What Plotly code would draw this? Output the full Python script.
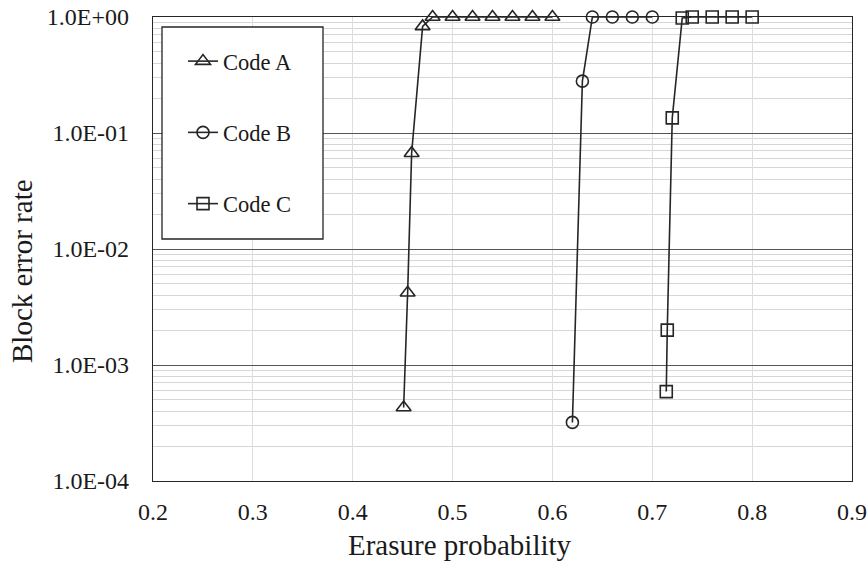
import plotly.graph_objects as go

# ---- data ----
a_x = [0.451, 0.455, 0.459, 0.47, 0.48, 0.50, 0.52, 0.54, 0.56, 0.58, 0.60]
a_y = [4.3e-4, 4.2e-3, 6.7e-2, 0.83, 1, 1, 1, 1, 1, 1, 1]
b_x = [0.62, 0.63, 0.64, 0.66, 0.68, 0.70]
b_y = [3.2e-4, 0.28, 1, 1, 1, 1]
c_x = [0.714, 0.715, 0.72, 0.73, 0.74, 0.76, 0.78, 0.80]
c_y = [5.9e-4, 2.0e-3, 0.135, 0.98, 1, 1, 1, 1]
series_names = ["Code A", "Code B", "Code C"]
y_tickvals = [1e-4, 1e-3, 1e-2, 1e-1, 1e0]
y_ticktext = ["1.0E-04", "1.0E-03", "1.0E-02", "1.0E-01", "1.0E+00"]
x_tickvals = [0.2, 0.3, 0.4, 0.5, 0.6, 0.7, 0.8, 0.9]
x_title = "Erasure probability"
y_title = "Block error rate"

FONT = "Liberation Serif"
INK = "#262626"
TXT = "#1a1a1a"
W, H = 868, 569
L, R, T, B = 153, 16, 17, 88

fig = go.Figure()
for i, (xs, ys, sym, size) in enumerate([
    (a_x, a_y, "triangle-up-open", 13),
    (b_x, b_y, "circle-open", 12),
    (c_x, c_y, "square-open", 12),
]):
    fig.add_trace(go.Scatter(
        x=xs, y=ys, name=series_names[i], mode="lines+markers",
        line=dict(color=INK, width=1.6),
        marker=dict(symbol=sym, size=size, color=INK, line=dict(width=1.6, color=INK)),
        cliponaxis=False, legendgroup=series_names[i],
    ))

minor_vals = [m * 10 ** e for e in range(-4, 0) for m in range(2, 10)]
pw, ph = W - L - R, H - T - B

fig.update_layout(
    width=W, height=H,
    margin=dict(l=L, r=R, t=T, b=B, autoexpand=False),
    paper_bgcolor="white", plot_bgcolor="white",
    font=dict(family=FONT, size=24, color=TXT),
    showlegend=True,
    legend=dict(
        x=(183 - L) / pw, y=(H - B - 40) / ph, xanchor="left", yanchor="top",
        bgcolor="rgba(0,0,0,0)", borderwidth=0,
        font=dict(family=FONT, size=22.5, color=TXT),
        traceorder="grouped", tracegroupgap=39, itemwidth=30,
    ),
    shapes=[dict(
        type="rect", xref="paper", yref="paper",
        x0=(162 - L) / pw, x1=(323 - L) / pw,
        y0=(H - B - 239) / ph, y1=(H - B - 27) / ph,
        line=dict(color=INK, width=1.3), fillcolor="white", layer="above",
    )],
    annotations=[
        dict(text=x_title, xref="paper", yref="paper",
             x=(460 - L) / pw, y=(H - B - 545) / ph, xanchor="center", yanchor="middle",
             showarrow=False, font=dict(family=FONT, size=29, color=TXT)),
        dict(text=y_title, xref="paper", yref="paper", textangle=-90,
             x=(22 - L) / pw, y=(H - B - 271) / ph, xanchor="center", yanchor="middle",
             showarrow=False, font=dict(family=FONT, size=29, color=TXT)),
    ],
)

fig.update_xaxes(
    range=[0.2, 0.9], tickvals=x_tickvals, ticktext=[f"{v:.1f}" for v in x_tickvals],
    tickfont=dict(family=FONT, size=24, color=TXT),
    showgrid=True, gridcolor="#dedede", gridwidth=1,
    showline=True, linecolor=INK, linewidth=1.3, mirror=True,
    ticks="outside", ticklen=9, tickcolor="rgba(0,0,0,0)",
    zeroline=False, automargin=False,
)
fig.update_yaxes(
    type="log", range=[-4, 0], tickvals=y_tickvals, ticktext=y_ticktext,
    tickfont=dict(family=FONT, size=24, color=TXT),
    showgrid=True, gridcolor="#555555", gridwidth=1,
    minor=dict(tickvals=minor_vals, showgrid=True, gridcolor="#d6d6d6", gridwidth=1, ticks=""),
    showline=True, linecolor=INK, linewidth=1.3, mirror=True,
    ticks="outside", ticklen=18, tickcolor="rgba(0,0,0,0)",
    zeroline=False, automargin=False,
)

fig.write_html("out.html", config={"displayModeBar": False},
               post_script="document.body.style.margin='0px';")
